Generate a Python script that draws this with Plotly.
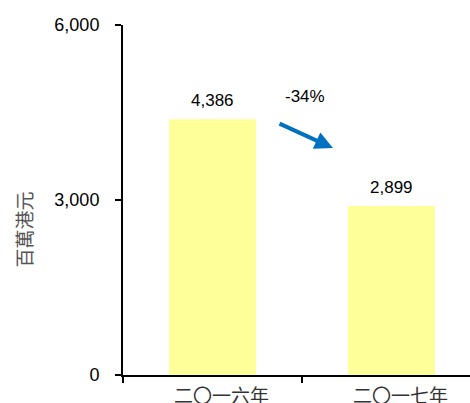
import plotly.graph_objects as go

categories = ["二〇一六年", "二〇一七年"]
values = [4386, 2899]
value_labels = ["4,386", "2,899"]
change_label = "-34%"
y_ticks = [0, 3000, 6000]
y_tick_labels = ["0", "3,000", "6,000"]
y_title = "百萬港元"

fig = go.Figure()
fig.add_trace(go.Bar(
    x=categories, y=values, marker=dict(color="#FFFF99", line=dict(width=0)),
    width=0.486, hoverinfo="skip",
))

for c, v, t in zip(categories, values, value_labels):
    fig.add_annotation(x=c, y=v, text=t, showarrow=False, yanchor="bottom", yshift=7,
                       font=dict(family="Liberation Sans, Arial", size=17, color="#000"))

fig.add_annotation(x=0.517, y=4766, text=change_label, showarrow=False,
                   font=dict(family="Liberation Sans, Arial", size=17, color="#000"))
fig.add_annotation(x=0.673, y=3891, ax=0.366, ay=4320, axref="x", ayref="y",
                   xref="x", yref="y", text="", showarrow=True,
                   arrowhead=2, arrowsize=0.9, arrowwidth=4, arrowcolor="#0070C0")

# y-axis title placed as a rotated annotation to match the reference position
fig.add_annotation(x=-0.2867, y=0.414, xref="paper", yref="paper", text=y_title,
                   textangle=-90, showarrow=False, xanchor="center", yanchor="middle",
                   font=dict(family="Noto Sans CJK TC", size=19, color="#555"))

fig.update_layout(
    width=470, height=403, margin=dict(l=123, r=0, t=25, b=28),
    paper_bgcolor="white", plot_bgcolor="white", showlegend=False,
    xaxis=dict(range=[-0.5, 1.4385], showline=True, linecolor="#000", linewidth=2,
               ticks="outside", tickson="boundaries", ticklen=6, tickwidth=2, tickcolor="#000",
               tickfont=dict(family="Noto Sans CJK TC", size=19, color="#333"),
               ticklabelstandoff=3, ticklabelshift=9,
               showgrid=False, zeroline=False, automargin=False),
    yaxis=dict(range=[0, 6000], tickvals=y_ticks, ticktext=y_tick_labels,
               showline=True, linecolor="#000", linewidth=2,
               ticks="outside", ticklen=6, tickwidth=2, tickcolor="#000",
               tickfont=dict(family="Liberation Sans, Arial", size=18, color="#000"),
               ticklabelstandoff=12, showgrid=False, zeroline=False, automargin=False),
)

fig.write_html("out.html")
